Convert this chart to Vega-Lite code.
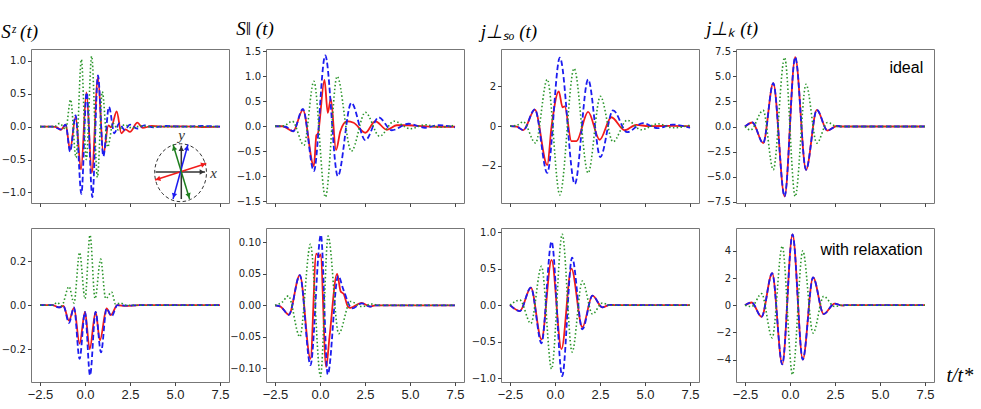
{
  "$schema": "https://vega.github.io/schema/vega-lite/v6.json",
  "background": "white",
  "padding": {"left": 0, "top": 19, "right": 0, "bottom": 0},
  "config": {
    "view": {"stroke": "#777777", "strokeWidth": 1},
    "axis": {"grid": false, "domain": false, "tickColor": "#444444", "tickSize": 3.5, "labelColor": "#222222", "title": null},
    "axisY": {"labelFont": "DejaVu Sans", "labelFontSize": 10, "labelPadding": 2},
    "axisX": {"labelFont": "Liberation Sans", "labelFontSize": 13, "labelPadding": 3},
    "title": {"font": "Liberation Serif", "fontStyle": "italic", "fontWeight": "normal", "fontSize": 19, "anchor": "start", "offset": 7, "color": "black"}
  },
  "datasets": {
    "curves": [
      {"p":1,"s":"a","t":-2.5,"v":0},{"p":1,"s":"a","t":-1.8,"v":0},{"p":1,"s":"a","t":-1.55,"v":-0.01},{"p":1,"s":"a","t":-1.35,"v":-0.05},{"p":1,"s":"a","t":-1.07,"v":0.03},{"p":1,"s":"a","t":-0.83,"v":-0.35},{"p":1,"s":"a","t":-0.52,"v":0.15},{"p":1,"s":"a","t":-0.22,"v":-0.65},{"p":1,"s":"a","t":0.08,"v":0.52},{"p":1,"s":"a","t":0.38,"v":-0.7},{"p":1,"s":"a","t":0.72,"v":0.75},{"p":1,"s":"a","t":1.02,"v":-0.42},{"p":1,"s":"a","t":1.3,"v":0.02},{"p":1,"s":"a","t":1.45,"v":-0.01},{"p":1,"s":"a","t":1.76,"v":0.23},{"p":1,"s":"a","t":2.02,"v":-0.1},{"p":1,"s":"a","t":2.25,"v":-0.04},{"p":1,"s":"a","t":2.5,"v":-0.08},{"p":1,"s":"a","t":2.91,"v":0.06},{"p":1,"s":"a","t":3.2,"v":-0.02},{"p":1,"s":"a","t":3.7,"v":0.01},{"p":1,"s":"a","t":4.5,"v":0},{"p":1,"s":"a","t":5.5,"v":0.005},{"p":1,"s":"a","t":6.5,"v":-0.005},{"p":1,"s":"a","t":7.5,"v":0},
      {"p":1,"s":"b","t":-2.5,"v":0},{"p":1,"s":"b","t":-1.8,"v":0},{"p":1,"s":"b","t":-1.35,"v":-0.04},{"p":1,"s":"b","t":-1.07,"v":0.03},{"p":1,"s":"b","t":-0.83,"v":-0.38},{"p":1,"s":"b","t":-0.52,"v":0.17},{"p":1,"s":"b","t":-0.2,"v":-1.02},{"p":1,"s":"b","t":0.09,"v":0.52},{"p":1,"s":"b","t":0.41,"v":-1.07},{"p":1,"s":"b","t":0.72,"v":0.78},{"p":1,"s":"b","t":1.02,"v":-0.45},{"p":1,"s":"b","t":1.33,"v":0.3},{"p":1,"s":"b","t":1.63,"v":-0.1},{"p":1,"s":"b","t":1.9,"v":0.05},{"p":1,"s":"b","t":2.2,"v":-0.05},{"p":1,"s":"b","t":2.5,"v":0.03},{"p":1,"s":"b","t":2.9,"v":-0.03},{"p":1,"s":"b","t":3.3,"v":0.02},{"p":1,"s":"b","t":3.8,"v":-0.01},{"p":1,"s":"b","t":4.5,"v":0.01},{"p":1,"s":"b","t":5.5,"v":0},{"p":1,"s":"b","t":6.5,"v":0.01},{"p":1,"s":"b","t":7.5,"v":0},
      {"p":1,"s":"c","t":-2.5,"v":0},{"p":1,"s":"c","t":-1.7,"v":0},{"p":1,"s":"c","t":-1.41,"v":0.05},{"p":1,"s":"c","t":-1.07,"v":-0.04},{"p":1,"s":"c","t":-0.8,"v":0.41},{"p":1,"s":"c","t":-0.5,"v":-0.47},{"p":1,"s":"c","t":-0.2,"v":1.02},{"p":1,"s":"c","t":0.07,"v":-0.5},{"p":1,"s":"c","t":0.37,"v":1.07},{"p":1,"s":"c","t":0.69,"v":-0.77},{"p":1,"s":"c","t":0.96,"v":0.53},{"p":1,"s":"c","t":1.26,"v":-0.31},{"p":1,"s":"c","t":1.56,"v":0.05},{"p":1,"s":"c","t":1.85,"v":-0.05},{"p":1,"s":"c","t":2.2,"v":0.03},{"p":1,"s":"c","t":2.6,"v":-0.02},{"p":1,"s":"c","t":3.1,"v":0.01},{"p":1,"s":"c","t":3.6,"v":0},{"p":1,"s":"c","t":7.5,"v":0},

      {"p":2,"s":"a","t":-2.5,"v":0},{"p":2,"s":"a","t":-2.09,"v":0},{"p":2,"s":"a","t":-1.49,"v":-0.1},{"p":2,"s":"a","t":-0.95,"v":0.33},{"p":2,"s":"a","t":-0.34,"v":-0.8},{"p":2,"s":"a","t":-0.2,"v":-0.18},{"p":2,"s":"a","t":-0.12,"v":-0.15},{"p":2,"s":"a","t":0.25,"v":0.93},{"p":2,"s":"a","t":0.43,"v":0.27},{"p":2,"s":"a","t":0.6,"v":0.55},{"p":2,"s":"a","t":0.89,"v":-0.48},{"p":2,"s":"a","t":1.13,"v":-0.1},{"p":2,"s":"a","t":1.5,"v":0.1},{"p":2,"s":"a","t":1.87,"v":0.07},{"p":2,"s":"a","t":2.52,"v":-0.13},{"p":2,"s":"a","t":3.07,"v":0.1},{"p":2,"s":"a","t":3.72,"v":-0.07},{"p":2,"s":"a","t":4.27,"v":0.02},{"p":2,"s":"a","t":4.92,"v":0.02},{"p":2,"s":"a","t":5.8,"v":0},{"p":2,"s":"a","t":6.6,"v":-0.01},{"p":2,"s":"a","t":7.5,"v":-0.01},
      {"p":2,"s":"b","t":-2.5,"v":0},{"p":2,"s":"b","t":-1.91,"v":-0.01},{"p":2,"s":"b","t":-1.49,"v":-0.1},{"p":2,"s":"b","t":-0.95,"v":0.35},{"p":2,"s":"b","t":-0.34,"v":-0.9},{"p":2,"s":"b","t":0.29,"v":1.42},{"p":2,"s":"b","t":0.99,"v":-1.0},{"p":2,"s":"b","t":1.74,"v":0.47},{"p":2,"s":"b","t":2.52,"v":-0.28},{"p":2,"s":"b","t":3.26,"v":0.18},{"p":2,"s":"b","t":3.99,"v":-0.08},{"p":2,"s":"b","t":4.92,"v":0.05},{"p":2,"s":"b","t":5.84,"v":-0.03},{"p":2,"s":"b","t":6.58,"v":0.02},{"p":2,"s":"b","t":7.5,"v":-0.02},
      {"p":2,"s":"c","t":-2.5,"v":0},{"p":2,"s":"c","t":-2.0,"v":0.01},{"p":2,"s":"c","t":-1.54,"v":0.1},{"p":2,"s":"c","t":-0.89,"v":-0.38},{"p":2,"s":"c","t":-0.34,"v":0.9},{"p":2,"s":"c","t":0.3,"v":-1.42},{"p":2,"s":"c","t":0.95,"v":1.0},{"p":2,"s":"c","t":1.74,"v":-0.5},{"p":2,"s":"c","t":2.52,"v":0.28},{"p":2,"s":"c","t":3.31,"v":-0.2},{"p":2,"s":"c","t":4.12,"v":0.1},{"p":2,"s":"c","t":5.01,"v":-0.05},{"p":2,"s":"c","t":5.84,"v":0.03},{"p":2,"s":"c","t":6.67,"v":-0.02},{"p":2,"s":"c","t":7.5,"v":0.02},

      {"p":3,"s":"a","t":-2.5,"v":0},{"p":3,"s":"a","t":-2.13,"v":-0.02},{"p":3,"s":"a","t":-1.76,"v":-0.2},{"p":3,"s":"a","t":-1.12,"v":0.83},{"p":3,"s":"a","t":-0.43,"v":-1.95},{"p":3,"s":"a","t":-0.19,"v":0.0},{"p":3,"s":"a","t":0.21,"v":1.75},{"p":3,"s":"a","t":0.42,"v":0.95},{"p":3,"s":"a","t":0.54,"v":1.0},{"p":3,"s":"a","t":0.91,"v":-0.75},{"p":3,"s":"a","t":1.19,"v":-0.75},{"p":3,"s":"a","t":1.84,"v":0.72},{"p":3,"s":"a","t":2.48,"v":-0.68},{"p":3,"s":"a","t":3.13,"v":0.45},{"p":3,"s":"a","t":3.87,"v":-0.2},{"p":3,"s":"a","t":4.51,"v":0.07},{"p":3,"s":"a","t":5.2,"v":0},{"p":3,"s":"a","t":6.5,"v":0.02},{"p":3,"s":"a","t":7.5,"v":0},
      {"p":3,"s":"b","t":-2.5,"v":0},{"p":3,"s":"b","t":-2.13,"v":-0.02},{"p":3,"s":"b","t":-1.76,"v":-0.2},{"p":3,"s":"b","t":-1.12,"v":0.85},{"p":3,"s":"b","t":-0.43,"v":-2.35},{"p":3,"s":"b","t":0.27,"v":3.45},{"p":3,"s":"b","t":1.1,"v":-2.9},{"p":3,"s":"b","t":1.84,"v":2.35},{"p":3,"s":"b","t":2.52,"v":-1.55},{"p":3,"s":"b","t":3.22,"v":0.8},{"p":3,"s":"b","t":4.01,"v":-0.3},{"p":3,"s":"b","t":4.88,"v":0.15},{"p":3,"s":"b","t":5.71,"v":-0.1},{"p":3,"s":"b","t":6.54,"v":0.08},{"p":3,"s":"b","t":7.5,"v":-0.08},
      {"p":3,"s":"c","t":-2.5,"v":0},{"p":3,"s":"c","t":-2.1,"v":0.05},{"p":3,"s":"c","t":-1.76,"v":0.22},{"p":3,"s":"c","t":-1.08,"v":-0.85},{"p":3,"s":"c","t":-0.43,"v":2.35},{"p":3,"s":"c","t":0.27,"v":-3.45},{"p":3,"s":"c","t":1.06,"v":2.9},{"p":3,"s":"c","t":1.84,"v":-2.35},{"p":3,"s":"c","t":2.52,"v":1.5},{"p":3,"s":"c","t":3.22,"v":-0.78},{"p":3,"s":"c","t":4.01,"v":0.3},{"p":3,"s":"c","t":4.79,"v":-0.18},{"p":3,"s":"c","t":5.71,"v":0.12},{"p":3,"s":"c","t":6.54,"v":-0.08},{"p":3,"s":"c","t":7.5,"v":0.05},

      {"p":4,"s":"a","t":-2.5,"v":0},{"p":4,"s":"a","t":-2.09,"v":0.4},{"p":4,"s":"a","t":-1.49,"v":-1.65},{"p":4,"s":"a","t":-0.93,"v":4.3},{"p":4,"s":"a","t":-0.3,"v":-6.95},{"p":4,"s":"a","t":0.29,"v":6.9},{"p":4,"s":"a","t":0.89,"v":-4.3},{"p":4,"s":"a","t":1.49,"v":1.65},{"p":4,"s":"a","t":2.08,"v":-0.4},{"p":4,"s":"a","t":2.61,"v":0.05},{"p":4,"s":"a","t":2.89,"v":0},{"p":4,"s":"a","t":7.5,"v":0},
      {"p":4,"s":"b","t":-2.5,"v":0},{"p":4,"s":"b","t":-2.09,"v":0.4},{"p":4,"s":"b","t":-1.49,"v":-1.65},{"p":4,"s":"b","t":-0.93,"v":4.3},{"p":4,"s":"b","t":-0.3,"v":-6.95},{"p":4,"s":"b","t":0.29,"v":6.9},{"p":4,"s":"b","t":0.89,"v":-4.3},{"p":4,"s":"b","t":1.49,"v":1.65},{"p":4,"s":"b","t":2.08,"v":-0.4},{"p":4,"s":"b","t":2.61,"v":0.05},{"p":4,"s":"b","t":2.89,"v":0},{"p":4,"s":"b","t":7.5,"v":0},
      {"p":4,"s":"c","t":-2.5,"v":0},{"p":4,"s":"c","t":-2.19,"v":-0.35},{"p":4,"s":"c","t":-1.49,"v":1.6},{"p":4,"s":"c","t":-0.93,"v":-4.3},{"p":4,"s":"c","t":-0.3,"v":6.85},{"p":4,"s":"c","t":0.29,"v":-6.95},{"p":4,"s":"c","t":0.89,"v":4.2},{"p":4,"s":"c","t":1.49,"v":-1.65},{"p":4,"s":"c","t":2.08,"v":0.4},{"p":4,"s":"c","t":2.61,"v":0},{"p":4,"s":"c","t":7.5,"v":0},

      {"p":5,"s":"a","t":-2.5,"v":0},{"p":5,"s":"a","t":-1.81,"v":0},{"p":5,"s":"a","t":-1.44,"v":-0.01},{"p":5,"s":"a","t":-1.2,"v":-0.003},{"p":5,"s":"a","t":-0.89,"v":-0.07},{"p":5,"s":"a","t":-0.61,"v":-0.012},{"p":5,"s":"a","t":-0.3,"v":-0.175},{"p":5,"s":"a","t":0.0,"v":-0.03},{"p":5,"s":"a","t":0.26,"v":-0.2},{"p":5,"s":"a","t":0.59,"v":-0.03},{"p":5,"s":"a","t":0.83,"v":-0.16},{"p":5,"s":"a","t":1.2,"v":-0.015},{"p":5,"s":"a","t":1.43,"v":-0.045},{"p":5,"s":"a","t":1.8,"v":0},{"p":5,"s":"a","t":2.26,"v":-0.003},{"p":5,"s":"a","t":3.0,"v":0},{"p":5,"s":"a","t":7.5,"v":0},
      {"p":5,"s":"b","t":-2.5,"v":0},{"p":5,"s":"b","t":-1.81,"v":0},{"p":5,"s":"b","t":-1.44,"v":-0.01},{"p":5,"s":"b","t":-1.2,"v":-0.003},{"p":5,"s":"b","t":-0.89,"v":-0.08},{"p":5,"s":"b","t":-0.61,"v":-0.01},{"p":5,"s":"b","t":-0.3,"v":-0.245},{"p":5,"s":"b","t":0.0,"v":-0.03},{"p":5,"s":"b","t":0.28,"v":-0.32},{"p":5,"s":"b","t":0.59,"v":-0.03},{"p":5,"s":"b","t":0.89,"v":-0.215},{"p":5,"s":"b","t":1.2,"v":-0.015},{"p":5,"s":"b","t":1.48,"v":-0.05},{"p":5,"s":"b","t":1.8,"v":0},{"p":5,"s":"b","t":2.3,"v":-0.002},{"p":5,"s":"b","t":3.0,"v":0},{"p":5,"s":"b","t":7.5,"v":0},
      {"p":5,"s":"c","t":-2.5,"v":0},{"p":5,"s":"c","t":-1.81,"v":0},{"p":5,"s":"c","t":-1.54,"v":0.012},{"p":5,"s":"c","t":-1.3,"v":-0.003},{"p":5,"s":"c","t":-0.89,"v":0.085},{"p":5,"s":"c","t":-0.61,"v":0.01},{"p":5,"s":"c","t":-0.3,"v":0.24},{"p":5,"s":"c","t":0.0,"v":0.03},{"p":5,"s":"c","t":0.28,"v":0.32},{"p":5,"s":"c","t":0.56,"v":0.03},{"p":5,"s":"c","t":0.87,"v":0.21},{"p":5,"s":"c","t":1.15,"v":0.03},{"p":5,"s":"c","t":1.48,"v":0.06},{"p":5,"s":"c","t":1.7,"v":0.005},{"p":5,"s":"c","t":1.98,"v":0.01},{"p":5,"s":"c","t":2.26,"v":0},{"p":5,"s":"c","t":7.5,"v":0},

      {"p":6,"s":"a","t":-2.5,"v":0},{"p":6,"s":"a","t":-2.19,"v":-0.002},{"p":6,"s":"a","t":-1.73,"v":-0.015},{"p":6,"s":"a","t":-1.12,"v":0.048},{"p":6,"s":"a","t":-0.53,"v":-0.085},{"p":6,"s":"a","t":-0.21,"v":0.082},{"p":6,"s":"a","t":-0.05,"v":0.077},{"p":6,"s":"a","t":0.03,"v":0.081},{"p":6,"s":"a","t":0.34,"v":-0.098},{"p":6,"s":"a","t":0.53,"v":-0.05},{"p":6,"s":"a","t":0.95,"v":0.05},{"p":6,"s":"a","t":1.15,"v":0.022},{"p":6,"s":"a","t":1.32,"v":0.018},{"p":6,"s":"a","t":1.55,"v":-0.002},{"p":6,"s":"a","t":1.69,"v":-0.004},{"p":6,"s":"a","t":2.3,"v":0.004},{"p":6,"s":"a","t":2.8,"v":-0.002},{"p":6,"s":"a","t":3.07,"v":0},{"p":6,"s":"a","t":7.5,"v":0},
      {"p":6,"s":"b","t":-2.5,"v":0},{"p":6,"s":"b","t":-2.19,"v":-0.002},{"p":6,"s":"b","t":-1.73,"v":-0.015},{"p":6,"s":"b","t":-1.12,"v":0.048},{"p":6,"s":"b","t":-0.53,"v":-0.095},{"p":6,"s":"b","t":0.05,"v":0.112},{"p":6,"s":"b","t":0.43,"v":-0.11},{"p":6,"s":"b","t":1.01,"v":0.047},{"p":6,"s":"b","t":1.3,"v":0.025},{"p":6,"s":"b","t":1.78,"v":-0.005},{"p":6,"s":"b","t":2.33,"v":0.003},{"p":6,"s":"b","t":2.8,"v":-0.002},{"p":6,"s":"b","t":3.07,"v":0},{"p":6,"s":"b","t":7.5,"v":0},
      {"p":6,"s":"c","t":-2.5,"v":0},{"p":6,"s":"c","t":-2.1,"v":0.005},{"p":6,"s":"c","t":-1.76,"v":0.015},{"p":6,"s":"c","t":-1.12,"v":-0.05},{"p":6,"s":"c","t":-0.53,"v":0.097},{"p":6,"s":"c","t":0.03,"v":-0.113},{"p":6,"s":"c","t":0.45,"v":0.11},{"p":6,"s":"c","t":1.04,"v":-0.045},{"p":6,"s":"c","t":1.69,"v":0.006},{"p":6,"s":"c","t":2.33,"v":-0.002},{"p":6,"s":"c","t":2.89,"v":0.002},{"p":6,"s":"c","t":3.26,"v":0},{"p":6,"s":"c","t":7.5,"v":0},

      {"p":7,"s":"a","t":-2.5,"v":0},{"p":7,"s":"a","t":-1.95,"v":-0.08},{"p":7,"s":"a","t":-1.34,"v":0.24},{"p":7,"s":"a","t":-0.75,"v":-0.47},{"p":7,"s":"a","t":-0.19,"v":0.62},{"p":7,"s":"a","t":0.36,"v":-0.6},{"p":7,"s":"a","t":0.91,"v":0.5},{"p":7,"s":"a","t":1.52,"v":-0.3},{"p":7,"s":"a","t":2.08,"v":0.13},{"p":7,"s":"a","t":2.63,"v":-0.03},{"p":7,"s":"a","t":3.04,"v":0.005},{"p":7,"s":"a","t":3.4,"v":0},{"p":7,"s":"a","t":7.5,"v":0},
      {"p":7,"s":"b","t":-2.5,"v":0},{"p":7,"s":"b","t":-1.95,"v":-0.08},{"p":7,"s":"b","t":-1.34,"v":0.24},{"p":7,"s":"b","t":-0.75,"v":-0.52},{"p":7,"s":"b","t":-0.19,"v":0.87},{"p":7,"s":"b","t":0.4,"v":-0.97},{"p":7,"s":"b","t":0.95,"v":0.65},{"p":7,"s":"b","t":1.52,"v":-0.33},{"p":7,"s":"b","t":2.08,"v":0.13},{"p":7,"s":"b","t":2.63,"v":-0.03},{"p":7,"s":"b","t":3.04,"v":0.005},{"p":7,"s":"b","t":3.4,"v":0},{"p":7,"s":"b","t":7.5,"v":0},
      {"p":7,"s":"c","t":-2.5,"v":0},{"p":7,"s":"c","t":-1.95,"v":0.07},{"p":7,"s":"c","t":-1.34,"v":-0.25},{"p":7,"s":"c","t":-0.75,"v":0.53},{"p":7,"s":"c","t":-0.19,"v":-0.87},{"p":7,"s":"c","t":0.4,"v":0.97},{"p":7,"s":"c","t":0.95,"v":-0.64},{"p":7,"s":"c","t":1.52,"v":0.33},{"p":7,"s":"c","t":2.08,"v":-0.12},{"p":7,"s":"c","t":2.63,"v":0.03},{"p":7,"s":"c","t":3.04,"v":0},{"p":7,"s":"c","t":7.5,"v":0},

      {"p":8,"s":"a","t":-2.5,"v":0},{"p":8,"s":"a","t":-2.13,"v":0.2},{"p":8,"s":"a","t":-1.58,"v":-0.85},{"p":8,"s":"a","t":-0.99,"v":2.35},{"p":8,"s":"a","t":-0.43,"v":-4.35},{"p":8,"s":"a","t":0.14,"v":5.2},{"p":8,"s":"a","t":0.71,"v":-4.0},{"p":8,"s":"a","t":1.28,"v":2.05},{"p":8,"s":"a","t":1.87,"v":-0.65},{"p":8,"s":"a","t":2.48,"v":0.12},{"p":8,"s":"a","t":2.89,"v":-0.02},{"p":8,"s":"a","t":3.07,"v":0},{"p":8,"s":"a","t":7.5,"v":0},
      {"p":8,"s":"b","t":-2.5,"v":0},{"p":8,"s":"b","t":-2.13,"v":0.2},{"p":8,"s":"b","t":-1.58,"v":-0.85},{"p":8,"s":"b","t":-0.99,"v":2.35},{"p":8,"s":"b","t":-0.43,"v":-4.35},{"p":8,"s":"b","t":0.14,"v":5.2},{"p":8,"s":"b","t":0.71,"v":-4.0},{"p":8,"s":"b","t":1.28,"v":2.05},{"p":8,"s":"b","t":1.87,"v":-0.65},{"p":8,"s":"b","t":2.48,"v":0.12},{"p":8,"s":"b","t":2.89,"v":-0.02},{"p":8,"s":"b","t":3.07,"v":0},{"p":8,"s":"b","t":7.5,"v":0},
      {"p":8,"s":"c","t":-2.5,"v":0},{"p":8,"s":"c","t":-2.13,"v":-0.1},{"p":8,"s":"c","t":-1.58,"v":0.85},{"p":8,"s":"c","t":-0.99,"v":-2.4},{"p":8,"s":"c","t":-0.43,"v":4.35},{"p":8,"s":"c","t":0.14,"v":-5.1},{"p":8,"s":"c","t":0.71,"v":4.0},{"p":8,"s":"c","t":1.28,"v":-2.05},{"p":8,"s":"c","t":1.87,"v":0.65},{"p":8,"s":"c","t":2.48,"v":-0.1},{"p":8,"s":"c","t":2.89,"v":0},{"p":8,"s":"c","t":7.5,"v":0}
    ],
    "notes": [
      {"p":4,"t":7.4,"v":5.8,"lab":"ideal"},
      {"p":8,"t":7.37,"v":4.06,"lab":"with relaxation"}
    ],
    "inset": [
      {"k":"ring","o":0,"t":6.75,"v":-0.7},{"k":"ring","o":1,"t":6.64,"v":-0.532},{"k":"ring","o":2,"t":6.33,"v":-0.389},{"k":"ring","o":3,"t":5.86,"v":-0.293},
      {"k":"ring","o":4,"t":5.31,"v":-0.26},{"k":"ring","o":5,"t":4.76,"v":-0.293},{"k":"ring","o":6,"t":4.29,"v":-0.389},{"k":"ring","o":7,"t":3.98,"v":-0.532},
      {"k":"ring","o":8,"t":3.87,"v":-0.7},{"k":"ring","o":9,"t":3.98,"v":-0.868},{"k":"ring","o":10,"t":4.29,"v":-1.011},{"k":"ring","o":11,"t":4.76,"v":-1.107},
      {"k":"ring","o":12,"t":5.31,"v":-1.14},{"k":"ring","o":13,"t":5.86,"v":-1.107},{"k":"ring","o":14,"t":6.33,"v":-1.011},{"k":"ring","o":15,"t":6.64,"v":-0.868},
      {"k":"shaft","c":"k","t":3.92,"v":-0.69,"t2":6.67,"v2":-0.69},
      {"k":"shaft","c":"k","t":5.35,"v":-1.1,"t2":5.35,"v2":-0.29},
      {"k":"shaft","c":"a","t":3.89,"v":-0.81,"t2":6.74,"v2":-0.56},
      {"k":"shaft","c":"b","t":4.89,"v":-1.1,"t2":5.72,"v2":-0.27},
      {"k":"shaft","c":"c","t":4.89,"v":-0.27,"t2":5.81,"v2":-1.1},
      {"k":"head","c":"k","t":6.5,"v":-0.69,"dir":90},
      {"k":"head","c":"k","t":5.35,"v":-0.335,"dir":0},
      {"k":"head","c":"a","t":6.58,"v":-0.574,"dir":72},
      {"k":"head","c":"a","t":4.05,"v":-0.796,"dir":252},
      {"k":"head","c":"b","t":5.67,"v":-0.322,"dir":15},
      {"k":"head","c":"b","t":4.94,"v":-1.048,"dir":195},
      {"k":"head","c":"c","t":4.94,"v":-0.322,"dir":343},
      {"k":"head","c":"c","t":5.76,"v":-1.048,"dir":163},
      {"k":"label","t":7.15,"v":-0.7,"lab":"x"},
      {"k":"label","t":5.36,"v":-0.124,"lab":"y"}
    ]
  },
  "columns": 4,
  "bounds": "flush",
  "spacing": {"row": 25, "column": 37},
  "concat": [
    {
      "width": 198, "height": 154,
      "title": {"text": "Sᶻ (t)"},
      "data": {"name": "curves"},
      "encoding": {
        "x": {"field": "t", "type": "quantitative", "scale": {"domain": [-3, 8], "nice": false, "zero": false}, "axis": {"values": [-2.5, 0, 2.5, 5, 7.5], "labels": false}},
        "y": {"field": "v", "type": "quantitative", "scale": {"domain": [-1.16, 1.18], "nice": false, "zero": false}, "axis": {"values": [-1, -0.5, 0, 0.5, 1], "format": ".1f"}}
      },
      "layer": [
        {"transform": [{"filter": "datum.p == 1 && datum.s == 'a'"}], "mark": {"type": "line", "color": "#f21b1b", "strokeWidth": 1.8, "interpolate": "monotone"}, "encoding": {}},
        {"transform": [{"filter": "datum.p == 1 && datum.s == 'b'"}], "mark": {"type": "line", "color": "#1c1cf0", "strokeWidth": 1.8, "strokeDash": [5.5, 2.8], "interpolate": "monotone"}, "encoding": {}},
        {"transform": [{"filter": "datum.p == 1 && datum.s == 'c'"}], "mark": {"type": "line", "color": "#2a952a", "strokeWidth": 1.6, "strokeDash": [1.5, 2.3], "interpolate": "monotone"}, "encoding": {}},
        {"data": {"name": "inset"}, "transform": [{"filter": "datum.k == 'ring'"}], "mark": {"type": "line", "color": "#333333", "strokeWidth": 1, "strokeDash": [3.5, 2.5], "interpolate": "cardinal-closed"}, "encoding": {"order": {"field": "o", "type": "quantitative"}}},
        {"data": {"name": "inset"}, "transform": [{"filter": "datum.k == 'shaft'"}], "mark": {"type": "rule", "strokeWidth": 1.5}, "encoding": {"x2": {"field": "t2"}, "y2": {"field": "v2"}, "color": {"field": "c", "type": "nominal", "scale": {"domain": ["a", "b", "c", "k"], "range": ["#f21b1b", "#1c1cf0", "#1f7f1f", "#333333"]}, "legend": null}}},
        {"data": {"name": "inset"}, "transform": [{"filter": "datum.k == 'head'"}], "mark": {"type": "point", "shape": "triangle-up", "filled": true, "size": 30, "opacity": 1}, "encoding": {"angle": {"field": "dir", "type": "quantitative", "scale": null}, "color": {"field": "c", "type": "nominal", "scale": {"domain": ["a", "b", "c", "k"], "range": ["#f21b1b", "#1c1cf0", "#1f7f1f", "#333333"]}, "legend": null}}},
        {"data": {"name": "inset"}, "transform": [{"filter": "datum.k == 'label'"}], "mark": {"type": "text", "font": "Liberation Serif", "fontStyle": "italic", "fontSize": 15, "color": "#333333", "align": "center", "baseline": "middle"}, "encoding": {"text": {"field": "lab"}}}
      ]
    },
    {
      "width": 198, "height": 154,
      "title": {"text": "S‖ (t)"},
      "data": {"name": "curves"},
      "encoding": {
        "x": {"field": "t", "type": "quantitative", "scale": {"domain": [-3, 8], "nice": false, "zero": false}, "axis": {"values": [-2.5, 0, 2.5, 5, 7.5], "labels": false}},
        "y": {"field": "v", "type": "quantitative", "scale": {"domain": [-1.54, 1.55], "nice": false, "zero": false}, "axis": {"values": [-1.5, -1, -0.5, 0, 0.5, 1, 1.5], "format": ".1f"}}
      },
      "layer": [
        {"transform": [{"filter": "datum.p == 2 && datum.s == 'a'"}], "mark": {"type": "line", "color": "#f21b1b", "strokeWidth": 1.8, "interpolate": "monotone"}, "encoding": {}},
        {"transform": [{"filter": "datum.p == 2 && datum.s == 'b'"}], "mark": {"type": "line", "color": "#1c1cf0", "strokeWidth": 1.8, "strokeDash": [5.5, 2.8], "interpolate": "monotone"}, "encoding": {}},
        {"transform": [{"filter": "datum.p == 2 && datum.s == 'c'"}], "mark": {"type": "line", "color": "#2a952a", "strokeWidth": 1.6, "strokeDash": [1.5, 2.3], "interpolate": "monotone"}, "encoding": {}}
      ]
    },
    {
      "width": 198, "height": 154,
      "title": {"text": "j⊥ₛₒ (t)"},
      "data": {"name": "curves"},
      "encoding": {
        "x": {"field": "t", "type": "quantitative", "scale": {"domain": [-3, 8], "nice": false, "zero": false}, "axis": {"values": [-2.5, 0, 2.5, 5, 7.5], "labels": false}},
        "y": {"field": "v", "type": "quantitative", "scale": {"domain": [-3.86, 3.88], "nice": false, "zero": false}, "axis": {"values": [-2, 0, 2], "format": "d"}}
      },
      "layer": [
        {"transform": [{"filter": "datum.p == 3 && datum.s == 'a'"}], "mark": {"type": "line", "color": "#f21b1b", "strokeWidth": 1.8, "interpolate": "monotone"}, "encoding": {}},
        {"transform": [{"filter": "datum.p == 3 && datum.s == 'b'"}], "mark": {"type": "line", "color": "#1c1cf0", "strokeWidth": 1.8, "strokeDash": [5.5, 2.8], "interpolate": "monotone"}, "encoding": {}},
        {"transform": [{"filter": "datum.p == 3 && datum.s == 'c'"}], "mark": {"type": "line", "color": "#2a952a", "strokeWidth": 1.6, "strokeDash": [1.5, 2.3], "interpolate": "monotone"}, "encoding": {}}
      ]
    },
    {
      "width": 198, "height": 154,
      "title": {"text": "j⊥ₖ (t)"},
      "data": {"name": "curves"},
      "encoding": {
        "x": {"field": "t", "type": "quantitative", "scale": {"domain": [-3, 8], "nice": false, "zero": false}, "axis": {"values": [-2.5, 0, 2.5, 5, 7.5], "labels": false}},
        "y": {"field": "v", "type": "quantitative", "scale": {"domain": [-7.6, 7.7], "nice": false, "zero": false}, "axis": {"values": [-7.5, -5, -2.5, 0, 2.5, 5, 7.5], "format": ".1f"}}
      },
      "layer": [
        {"transform": [{"filter": "datum.p == 4 && datum.s == 'a'"}], "mark": {"type": "line", "color": "#f21b1b", "strokeWidth": 1.8, "interpolate": "monotone"}, "encoding": {}},
        {"transform": [{"filter": "datum.p == 4 && datum.s == 'b'"}], "mark": {"type": "line", "color": "#1c1cf0", "strokeWidth": 1.8, "strokeDash": [5.5, 2.8], "interpolate": "monotone"}, "encoding": {}},
        {"transform": [{"filter": "datum.p == 4 && datum.s == 'c'"}], "mark": {"type": "line", "color": "#2a952a", "strokeWidth": 1.6, "strokeDash": [1.5, 2.3], "interpolate": "monotone"}, "encoding": {}},
        {"data": {"name": "notes"}, "transform": [{"filter": "datum.p == 4"}], "mark": {"type": "text", "font": "Liberation Sans", "fontSize": 16, "color": "black", "align": "right", "baseline": "middle"}, "encoding": {"text": {"field": "lab"}}}
      ]
    },
    {
      "width": 198, "height": 154,
      "data": {"name": "curves"},
      "encoding": {
        "x": {"field": "t", "type": "quantitative", "scale": {"domain": [-3, 8], "nice": false, "zero": false}, "axis": {"values": [-2.5, 0, 2.5, 5, 7.5], "format": ".1f"}},
        "y": {"field": "v", "type": "quantitative", "scale": {"domain": [-0.35, 0.352], "nice": false, "zero": false}, "axis": {"values": [-0.2, 0, 0.2], "format": ".1f"}}
      },
      "layer": [
        {"transform": [{"filter": "datum.p == 5 && datum.s == 'a'"}], "mark": {"type": "line", "color": "#f21b1b", "strokeWidth": 1.8, "interpolate": "monotone"}, "encoding": {}},
        {"transform": [{"filter": "datum.p == 5 && datum.s == 'b'"}], "mark": {"type": "line", "color": "#1c1cf0", "strokeWidth": 1.8, "strokeDash": [5.5, 2.8], "interpolate": "monotone"}, "encoding": {}},
        {"transform": [{"filter": "datum.p == 5 && datum.s == 'c'"}], "mark": {"type": "line", "color": "#2a952a", "strokeWidth": 1.6, "strokeDash": [1.5, 2.3], "interpolate": "monotone"}, "encoding": {}}
      ]
    },
    {
      "width": 198, "height": 154,
      "data": {"name": "curves"},
      "encoding": {
        "x": {"field": "t", "type": "quantitative", "scale": {"domain": [-3, 8], "nice": false, "zero": false}, "axis": {"values": [-2.5, 0, 2.5, 5, 7.5], "format": ".1f"}},
        "y": {"field": "v", "type": "quantitative", "scale": {"domain": [-0.122, 0.123], "nice": false, "zero": false}, "axis": {"values": [-0.1, -0.05, 0, 0.05, 0.1], "format": ".2f"}}
      },
      "layer": [
        {"transform": [{"filter": "datum.p == 6 && datum.s == 'a'"}], "mark": {"type": "line", "color": "#f21b1b", "strokeWidth": 1.8, "interpolate": "monotone"}, "encoding": {}},
        {"transform": [{"filter": "datum.p == 6 && datum.s == 'b'"}], "mark": {"type": "line", "color": "#1c1cf0", "strokeWidth": 1.8, "strokeDash": [5.5, 2.8], "interpolate": "monotone"}, "encoding": {}},
        {"transform": [{"filter": "datum.p == 6 && datum.s == 'c'"}], "mark": {"type": "line", "color": "#2a952a", "strokeWidth": 1.6, "strokeDash": [1.5, 2.3], "interpolate": "monotone"}, "encoding": {}}
      ]
    },
    {
      "width": 198, "height": 154,
      "data": {"name": "curves"},
      "encoding": {
        "x": {"field": "t", "type": "quantitative", "scale": {"domain": [-3, 8], "nice": false, "zero": false}, "axis": {"values": [-2.5, 0, 2.5, 5, 7.5], "format": ".1f"}},
        "y": {"field": "v", "type": "quantitative", "scale": {"domain": [-1.05, 1.055], "nice": false, "zero": false}, "axis": {"values": [-1, -0.5, 0, 0.5, 1], "format": ".1f"}}
      },
      "layer": [
        {"transform": [{"filter": "datum.p == 7 && datum.s == 'a'"}], "mark": {"type": "line", "color": "#f21b1b", "strokeWidth": 1.8, "interpolate": "monotone"}, "encoding": {}},
        {"transform": [{"filter": "datum.p == 7 && datum.s == 'b'"}], "mark": {"type": "line", "color": "#1c1cf0", "strokeWidth": 1.8, "strokeDash": [5.5, 2.8], "interpolate": "monotone"}, "encoding": {}},
        {"transform": [{"filter": "datum.p == 7 && datum.s == 'c'"}], "mark": {"type": "line", "color": "#2a952a", "strokeWidth": 1.6, "strokeDash": [1.5, 2.3], "interpolate": "monotone"}, "encoding": {}}
      ]
    },
    {
      "width": 198, "height": 154,
      "data": {"name": "curves"},
      "encoding": {
        "x": {"field": "t", "type": "quantitative", "scale": {"domain": [-3, 8], "nice": false, "zero": false}, "axis": {"values": [-2.5, 0, 2.5, 5, 7.5], "format": ".1f", "title": "t/t*", "titleFont": "Liberation Serif", "titleFontStyle": "italic", "titleFontWeight": "normal", "titleFontSize": 20, "titleColor": "black", "titleAngle": 0, "titleAlign": "left", "titleBaseline": "alphabetic", "titleX": 210, "titleY": -1}},
        "y": {"field": "v", "type": "quantitative", "scale": {"domain": [-5.65, 5.68], "nice": false, "zero": false}, "axis": {"values": [-4, -2, 0, 2, 4], "format": "d"}}
      },
      "layer": [
        {"transform": [{"filter": "datum.p == 8 && datum.s == 'a'"}], "mark": {"type": "line", "color": "#f21b1b", "strokeWidth": 1.8, "interpolate": "monotone"}, "encoding": {}},
        {"transform": [{"filter": "datum.p == 8 && datum.s == 'b'"}], "mark": {"type": "line", "color": "#1c1cf0", "strokeWidth": 1.8, "strokeDash": [5.5, 2.8], "interpolate": "monotone"}, "encoding": {}},
        {"transform": [{"filter": "datum.p == 8 && datum.s == 'c'"}], "mark": {"type": "line", "color": "#2a952a", "strokeWidth": 1.6, "strokeDash": [1.5, 2.3], "interpolate": "monotone"}, "encoding": {}},
        {"data": {"name": "notes"}, "transform": [{"filter": "datum.p == 8"}], "mark": {"type": "text", "font": "Liberation Sans", "fontSize": 16, "color": "black", "align": "right", "baseline": "middle"}, "encoding": {"text": {"field": "lab"}}}
      ]
    }
  ]
}
